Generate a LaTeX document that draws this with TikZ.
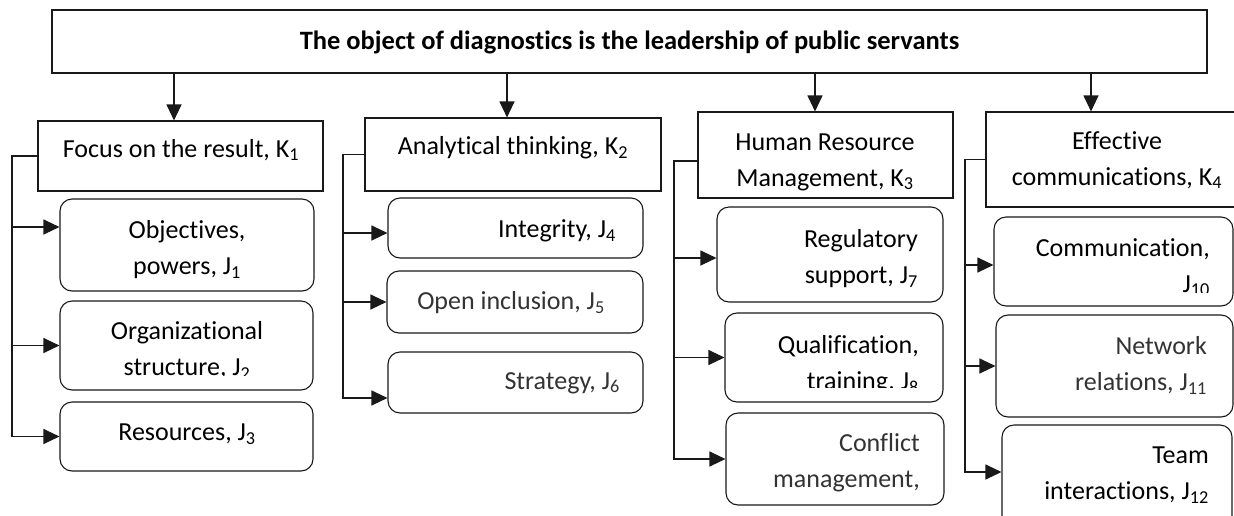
\documentclass[tikz,border=0pt]{standalone}
\usepackage{fontspec}
\setmainfont{Carlito}[Ligatures=CommonOff]
\usetikzlibrary{arrows.meta}
\begin{document}
\begin{tikzpicture}[x=1pt,y=-1pt,
  box/.style={draw=black!90, line width=1.1pt, inner sep=0pt},
  kbox/.style={box},
  jbox/.style={box, rounded corners=12pt},
  txt/.style={font=\fontsize{26}{36}\selectfont, inner sep=0pt, align=center},
  rtxt/.style={txt, align=right, anchor=east},
  ln/.style={line width=1.1pt, draw=black!90},
  arr/.style={ln, -{Triangle[length=16pt,width=15pt]}}
]
\useasboundingbox[fill=white] (0,0) rectangle (1234,515);

% top box
\node[box, minimum width=1155pt, minimum height=63pt] (T) at (629.5,41.5) {};
\node[txt, font=\fontsize{26.5}{36}\selectfont\bfseries] (tT) at (629.5,42) {The object of diagnostics is the leadership of public servants};

% K boxes
\node[kbox, minimum width=285pt, minimum height=70pt] (K1) at (180.5,156) {};
\node[kbox, minimum width=296pt, minimum height=73pt] (K2) at (513,154.5) {};
\node[kbox, minimum width=255pt, minimum height=86pt] (K3) at (825.5,155) {};
\node[kbox, minimum width=254pt, minimum height=95pt] (K4) at (1113,159.5) {};
\node[txt] (tK1) at (181,150) {Focus on the result, K\textsubscript{1}};
\node[txt] (tK2) at (513,148) {Analytical thinking, K\textsubscript{2}};
\node[txt] (tK3) at (825,162) {Human Resource\\Management, K\textsubscript{3}};
\node[txt] (tK4) at (1117,160) {Effective\\communications, K\textsubscript{4}};

% J boxes
\node[jbox, minimum width=254pt, minimum height=92pt] (J1) at (187,245) {};
\node[jbox, minimum width=253pt, minimum height=89pt] (J2) at (186.5,345.5) {};
\node[jbox, minimum width=253pt, minimum height=69pt] (J3) at (186.5,436.5) {};
\node[jbox, minimum width=255pt, minimum height=60pt] (J4) at (515.5,228) {};
\node[jbox, minimum width=256pt, minimum height=62pt] (J5) at (515,302) {};
\node[jbox, minimum width=255pt, minimum height=61pt] (J6) at (515.5,382.5) {};
\node[jbox, minimum width=226pt, minimum height=95pt] (J7) at (830,254.5) {};
\node[jbox, minimum width=218pt, minimum height=89pt] (J8) at (834,357.5) {};
\node[jbox, minimum width=218pt, minimum height=92pt] (J9) at (835,459) {};
\node[jbox, minimum width=239pt, minimum height=89pt] (J10) at (1113.5,261.5) {};
\node[jbox, minimum width=237pt, minimum height=102pt] (J11) at (1114.5,366) {};
\node[jbox, minimum width=230pt, minimum height=105pt] (J12) at (1117,477.5) {};

% J texts
\node[txt] (tJ1) at (187,250) {Objectives,\\powers, J\textsubscript{1}};
\begin{scope}
  \clip (60,301) rectangle (313,375);
  \node[txt] (tJ2) at (187,350.5) {Organizational\\structure, J\textsubscript{2}};
\end{scope}
\node[txt] (tJ3) at (187,434) {Resources, J\textsubscript{3}};
\node[rtxt] (tJ4) at (616,231) {Integrity, J\textsubscript{4}};
\node[txt, text=black!80] (tJ5) at (511,303) {Open inclusion, J\textsubscript{5}};
\node[rtxt, text=black!80] (tJ6) at (620,383) {Strategy, J\textsubscript{6}};
\node[rtxt] (tJ7) at (918,258.5) {Regulatory\\support, J\textsubscript{7}};
\begin{scope}
  \clip (725,313) rectangle (943,387);
  \node[rtxt] (tJ8) at (919,364.5) {Qualification,\\training, J\textsubscript{8}};
\end{scope}
\node[rtxt, text=black!80] (tJ9) at (920,462.5) {Conflict\\management,};
\begin{scope}
  \clip (994,217) rectangle (1233,292);
  \node[rtxt] (tJ10) at (1210,267) {Communication,\\J\textsubscript{10}\hspace{15pt}};
\end{scope}
\node[rtxt, text=black!80] (tJ11) at (1207,365.5) {Network\\relations, J\textsubscript{11}};
\node[rtxt] (tJ12) at (1209,475) {Team\\interactions, J\textsubscript{12}};

% top arrows
\coordinate (xa) at (174,0);
\coordinate (xb) at (507,0);
\coordinate (xc) at (815,0);
\coordinate (xd) at (1091,0);
\draw[arr] (T.south -| xa) -- (K1.north -| xa);
\draw[arr] (T.south -| xb) -- (K2.north -| xb);
\draw[arr] (T.south -| xc) -- (K3.north -| xc);
\draw[arr] (T.south -| xd) -- (K4.north -| xd);

% column 1
\coordinate (c1) at (12,0);
\coordinate (a1) at ([yshift=18pt]J1.west);
\draw[arr] (K1.west) -- (c1 |- K1.west) |- (J3.west);
\draw[arr] (c1 |- a1) -- (a1);
\draw[arr] (c1 |- J2.west) -- (J2.west);

% column 2
\coordinate (c2) at (343,0);
\coordinate (a4) at ([yshift=-5pt]J4.west);
\coordinate (a6) at ([yshift=-15.5pt]J6.west);
\draw[arr] (K2.west) -- (c2 |- K2.west) |- (a6);
\draw[arr] (c2 |- a4) -- (a4);
\draw[arr] (c2 |- J5.west) -- (J5.west);

% column 3
\coordinate (c3) at (674,0);
\coordinate (k3) at ([yshift=-6pt]K3.west);
\coordinate (a7) at ([yshift=-3.5pt]J7.west);
\draw[arr] (k3) -- (c3 |- k3) |- (J9.west);
\draw[arr] (c3 |- a7) -- (a7);
\draw[arr] (c3 |- J8.west) -- (J8.west);

% column 4
\coordinate (c4) at (965,0);
\coordinate (a10) at ([yshift=-3.5pt]J10.west);
\coordinate (a12) at ([yshift=5.5pt]J12.west);
\draw[arr] (K4.west) -- (c4 |- K4.west) |- (a12);
\draw[arr] (c4 |- a10) -- (a10);
\draw[arr] (c4 |- J11.west) -- (J11.west);
\end{tikzpicture}
\end{document}
